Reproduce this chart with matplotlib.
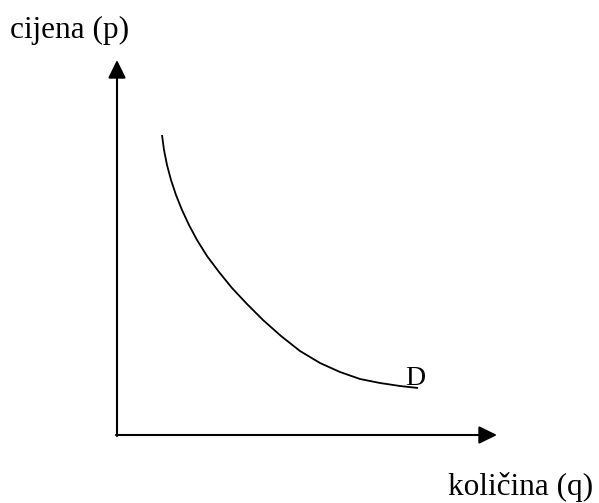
import numpy as np
import matplotlib
matplotlib.use("Agg")
import matplotlib.pyplot as plt

# demand curve points (origin at the axes corner)
q = [45, 47, 50, 54, 59, 65, 72, 80, 90, 102, 115, 130, 146, 164, 183,
     203, 223, 243, 263, 283, 301]
p = [300, 285, 270, 255, 240, 225, 210, 195, 179, 163, 147, 131, 115, 99, 84,
     72, 63, 56, 52, 49, 47]

# axis lengths
q_axis = 380
p_axis = 375

# labels
ylabel = 'cijena (p)'
xlabel = 'količina (q)'
curve_label = 'D'

fig = plt.figure(figsize=(5.99, 5.03), dpi=100)
ax = fig.add_axes([0, 0, 1, 1])
ax.set_xlim(-117, 599 - 117)
ax.set_ylim(-(503 - 435), 435)
ax.axis('off')

plt.rcParams['font.family'] = ['Liberation Serif', 'DejaVu Serif']

arrow = dict(arrowstyle='-|>,head_length=11,head_width=5.4', lw=1.5,
             color='black', mutation_scale=1, shrinkA=0, shrinkB=0)
ax.annotate('', xy=(q_axis, 0), xytext=(-1, 0), arrowprops=arrow)
ax.annotate('', xy=(0, p_axis), xytext=(0, -1), arrowprops=arrow)

ax.plot(q, p, color='black', lw=1.3, solid_capstyle='butt',
        solid_joinstyle='round')

ax.text(-107, 397, ylabel, fontsize=22.5, va='baseline', ha='left')
ax.text(331, -60, xlabel, fontsize=22.5, va='baseline', ha='left')
ax.text(288, 50, curve_label, fontsize=20, va='baseline', ha='left')

fig.savefig('out.png', dpi=100)
